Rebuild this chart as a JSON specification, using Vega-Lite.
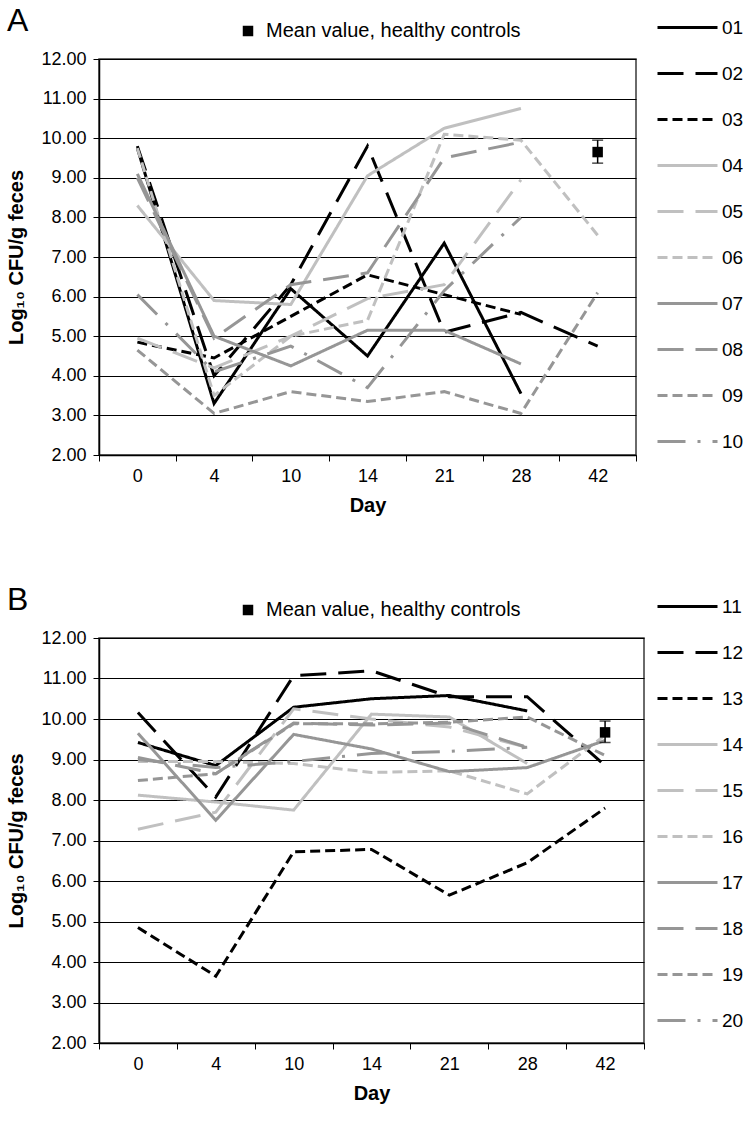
{
  "$schema": "https://vega.github.io/schema/vega-lite/v6.json",
  "padding": {"left": 6, "top": -5, "right": 0, "bottom": 0},
  "background": "white",
  "spacing": 58,
  "config": {
    "font": "Liberation Sans",
    "view": {"stroke": "#3a3a3a", "strokeWidth": 1.5},
    "axis": {"labelFont": "Liberation Sans", "labelFontSize": 18, "labelColor": "black", "titleFont": "Liberation Sans", "titleFontSize": 20, "titleFontWeight": "bold", "titleColor": "black", "domainColor": "black", "domainWidth": 1.5, "tickColor": "black", "tickWidth": 1, "labelOverlap": false},
    "legend": {"labelFont": "Liberation Sans", "labelColor": "black", "labelLimit": 400},
    "title": {"font": "Liberation Sans", "fontSize": 32, "fontWeight": "normal", "anchor": "start", "frame": "bounds", "color": "black", "offset": -42}
  },
  "datasets": {
    "a": [
      {"series": "01", "day": 0, "value": 9.75}, {"series": "01", "day": 4, "value": 3.3}, {"series": "01", "day": 10, "value": 6.2}, {"series": "01", "day": 14, "value": 4.5}, {"series": "01", "day": 21, "value": 7.35}, {"series": "01", "day": 28, "value": 3.55},
      {"series": "02", "day": 0, "value": 9.8}, {"series": "02", "day": 4, "value": 4.0}, {"series": "02", "day": 10, "value": 6.3}, {"series": "02", "day": 14, "value": 9.8}, {"series": "02", "day": 21, "value": 5.1}, {"series": "02", "day": 28, "value": 5.6}, {"series": "02", "day": 42, "value": 4.75},
      {"series": "03", "day": 0, "value": 4.85}, {"series": "03", "day": 4, "value": 4.45}, {"series": "03", "day": 10, "value": 5.5}, {"series": "03", "day": 14, "value": 6.55}, {"series": "03", "day": 21, "value": 6.05}, {"series": "03", "day": 28, "value": 5.55},
      {"series": "04", "day": 0, "value": 8.3}, {"series": "04", "day": 4, "value": 5.9}, {"series": "04", "day": 10, "value": 5.8}, {"series": "04", "day": 14, "value": 9.05}, {"series": "04", "day": 21, "value": 10.25}, {"series": "04", "day": 28, "value": 10.75},
      {"series": "05", "day": 0, "value": 4.95}, {"series": "05", "day": 4, "value": 4.2}, {"series": "05", "day": 10, "value": 5.0}, {"series": "05", "day": 14, "value": 5.95}, {"series": "05", "day": 21, "value": 6.3}, {"series": "05", "day": 28, "value": 8.95},
      {"series": "06", "day": 0, "value": 9.75}, {"series": "06", "day": 4, "value": 3.5}, {"series": "06", "day": 10, "value": 5.0}, {"series": "06", "day": 14, "value": 5.4}, {"series": "06", "day": 21, "value": 10.1}, {"series": "06", "day": 28, "value": 9.95}, {"series": "06", "day": 42, "value": 7.55},
      {"series": "07", "day": 0, "value": 9.1}, {"series": "07", "day": 4, "value": 5.0}, {"series": "07", "day": 10, "value": 4.25}, {"series": "07", "day": 14, "value": 5.15}, {"series": "07", "day": 21, "value": 5.15}, {"series": "07", "day": 28, "value": 4.3},
      {"series": "08", "day": 0, "value": 9.0}, {"series": "08", "day": 4, "value": 4.95}, {"series": "08", "day": 10, "value": 6.3}, {"series": "08", "day": 14, "value": 6.6}, {"series": "08", "day": 21, "value": 9.5}, {"series": "08", "day": 28, "value": 9.9},
      {"series": "09", "day": 0, "value": 4.65}, {"series": "09", "day": 4, "value": 3.05}, {"series": "09", "day": 10, "value": 3.6}, {"series": "09", "day": 14, "value": 3.35}, {"series": "09", "day": 21, "value": 3.6}, {"series": "09", "day": 28, "value": 3.05}, {"series": "09", "day": 42, "value": 6.1},
      {"series": "10", "day": 0, "value": 6.05}, {"series": "10", "day": 4, "value": 4.1}, {"series": "10", "day": 10, "value": 4.75}, {"series": "10", "day": 14, "value": 3.7}, {"series": "10", "day": 21, "value": 6.15}, {"series": "10", "day": 28, "value": 8.0}
    ],
    "b": [
      {"series": "11", "day": 0, "value": 9.42}, {"series": "11", "day": 4, "value": 8.85}, {"series": "11", "day": 10, "value": 10.29}, {"series": "11", "day": 14, "value": 10.5}, {"series": "11", "day": 21, "value": 10.58}, {"series": "11", "day": 28, "value": 10.2},
      {"series": "12", "day": 0, "value": 10.16}, {"series": "12", "day": 4, "value": 8.07}, {"series": "12", "day": 10, "value": 11.07}, {"series": "12", "day": 14, "value": 11.19}, {"series": "12", "day": 21, "value": 10.55}, {"series": "12", "day": 28, "value": 10.55}, {"series": "12", "day": 42, "value": 8.85},
      {"series": "13", "day": 0, "value": 4.85}, {"series": "13", "day": 4, "value": 3.65}, {"series": "13", "day": 10, "value": 6.72}, {"series": "13", "day": 14, "value": 6.78}, {"series": "13", "day": 21, "value": 5.65}, {"series": "13", "day": 28, "value": 6.45}, {"series": "13", "day": 42, "value": 7.8},
      {"series": "14", "day": 0, "value": 8.12}, {"series": "14", "day": 4, "value": 7.95}, {"series": "14", "day": 10, "value": 7.75}, {"series": "14", "day": 14, "value": 10.12}, {"series": "14", "day": 21, "value": 10.05}, {"series": "14", "day": 28, "value": 8.9},
      {"series": "15", "day": 0, "value": 7.28}, {"series": "15", "day": 4, "value": 7.7}, {"series": "15", "day": 10, "value": 10.25}, {"series": "15", "day": 14, "value": 10.0}, {"series": "15", "day": 21, "value": 9.8}, {"series": "15", "day": 28, "value": 9.3},
      {"series": "16", "day": 0, "value": 8.95}, {"series": "16", "day": 4, "value": 8.95}, {"series": "16", "day": 10, "value": 8.9}, {"series": "16", "day": 14, "value": 8.68}, {"series": "16", "day": 21, "value": 8.72}, {"series": "16", "day": 28, "value": 8.15}, {"series": "16", "day": 42, "value": 9.6},
      {"series": "17", "day": 0, "value": 9.65}, {"series": "17", "day": 4, "value": 7.5}, {"series": "17", "day": 10, "value": 9.62}, {"series": "17", "day": 14, "value": 9.26}, {"series": "17", "day": 21, "value": 8.7}, {"series": "17", "day": 28, "value": 8.8}, {"series": "17", "day": 42, "value": 9.47},
      {"series": "18", "day": 0, "value": 9.05}, {"series": "18", "day": 4, "value": 8.65}, {"series": "18", "day": 10, "value": 9.9}, {"series": "18", "day": 14, "value": 9.85}, {"series": "18", "day": 21, "value": 9.9}, {"series": "18", "day": 28, "value": 9.3},
      {"series": "19", "day": 0, "value": 8.48}, {"series": "19", "day": 4, "value": 8.65}, {"series": "19", "day": 10, "value": 9.88}, {"series": "19", "day": 14, "value": 9.88}, {"series": "19", "day": 21, "value": 9.92}, {"series": "19", "day": 28, "value": 10.05}, {"series": "19", "day": 42, "value": 9.1},
      {"series": "20", "day": 0, "value": 9.0}, {"series": "20", "day": 4, "value": 8.8}, {"series": "20", "day": 10, "value": 8.95}, {"series": "20", "day": 14, "value": 9.15}, {"series": "20", "day": 21, "value": 9.2}, {"series": "20", "day": 28, "value": 9.3}
    ],
    "meanA": [{"day": 42, "mean": 9.65, "lo": 9.37, "hi": 9.95, "label": "Mean value, healthy controls"}],
    "meanB": [{"day": 42, "mean": 9.67, "lo": 9.42, "hi": 9.95, "label": "Mean value, healthy controls"}]
  },
  "resolve": {"scale": {"color": "independent", "strokeDash": "independent", "shape": "independent"}, "legend": {"color": "independent", "strokeDash": "independent", "shape": "independent"}},
  "vconcat": [
    {
      "title": {"text": "A"},
      "width": 537,
      "height": 396,
      "layer": [
        {
          "data": {"name": "a"},
          "mark": {"type": "line", "strokeWidth": 3},
          "encoding": {
            "x": {"field": "day", "type": "ordinal", "title": "Day", "scale": {"type": "band", "domain": [0, 4, 10, 14, 21, 28, 42], "paddingInner": 0, "paddingOuter": 0}, "axis": {"labelAngle": 0, "tickBand": "extent", "tickSize": 6, "labelPadding": 6, "titlePadding": 10, "grid": false}},
            "y": {"field": "value", "type": "quantitative", "title": "Log₁₀ CFU/g feces", "scale": {"domain": [2, 12], "nice": false}, "axis": {"values": [2, 3, 4, 5, 6, 7, 8, 9, 10, 11, 12], "tickCount": 11, "format": ".2f", "labelOverlap": false, "grid": true, "gridColor": "black", "gridWidth": 1, "tickSize": 6, "labelPadding": 7, "titlePadding": 14}},
            "color": {"field": "series", "type": "nominal", "scale": {"domain": ["01", "02", "03", "04", "05", "06", "07", "08", "09", "10"], "range": ["#000000", "#000000", "#000000", "#c0c0c0", "#c0c0c0", "#c0c0c0", "#969696", "#969696", "#969696", "#969696"]}, "legend": {"orient": "none", "legendX": 557, "legendY": -63, "title": null, "symbolType": "stroke", "symbolSize": 3600, "symbolStrokeWidth": 3, "labelFontSize": 19, "labelOffset": 3, "rowPadding": 4, "padding": 0}},
            "strokeDash": {"field": "series", "type": "nominal", "scale": {"domain": ["01", "02", "03", "04", "05", "06", "07", "08", "09", "10"], "range": [[1, 0], [26, 12], [10, 5], [1, 0], [26, 12], [10, 5], [1, 0], [26, 12], [10, 5], [28, 12, 3, 12]]}, "legend": {"orient": "none", "legendX": 557, "legendY": -63, "title": null, "symbolType": "stroke", "symbolSize": 3600, "symbolStrokeWidth": 3, "labelFontSize": 19, "labelOffset": 3, "rowPadding": 4, "padding": 0}}
          }
        },
        {
          "data": {"name": "meanA"},
          "mark": {"type": "rule", "color": "black", "strokeWidth": 1.5},
          "encoding": {"x": {"field": "day", "type": "ordinal"}, "y": {"field": "lo", "type": "quantitative"}, "y2": {"field": "hi"}}
        },
        {
          "data": {"name": "meanA"},
          "mark": {"type": "tick", "orient": "horizontal", "color": "black", "size": 11, "thickness": 1.5},
          "encoding": {"x": {"field": "day", "type": "ordinal"}, "y": {"field": "lo", "type": "quantitative"}}
        },
        {
          "data": {"name": "meanA"},
          "mark": {"type": "tick", "orient": "horizontal", "color": "black", "size": 11, "thickness": 1.5},
          "encoding": {"x": {"field": "day", "type": "ordinal"}, "y": {"field": "hi", "type": "quantitative"}}
        },
        {
          "data": {"name": "meanA"},
          "mark": {"type": "point", "filled": true, "color": "black", "opacity": 1, "size": 110},
          "encoding": {
            "x": {"field": "day", "type": "ordinal"},
            "y": {"field": "mean", "type": "quantitative"},
            "shape": {"field": "label", "type": "nominal", "scale": {"range": ["square"]}, "legend": {"orient": "none", "legendX": 139, "legendY": -38, "title": null, "symbolSize": 110, "symbolFillColor": "black", "symbolStrokeColor": "black", "symbolOpacity": 1, "labelFontSize": 20, "labelOffset": 8, "padding": 0}}
          }
        }
      ]
    },
    {
      "title": {"text": "B"},
      "width": 545,
      "height": 405,
      "layer": [
        {
          "data": {"name": "b"},
          "mark": {"type": "line", "strokeWidth": 3},
          "encoding": {
            "x": {"field": "day", "type": "ordinal", "title": "Day", "scale": {"type": "band", "domain": [0, 4, 10, 14, 21, 28, 42], "paddingInner": 0, "paddingOuter": 0}, "axis": {"labelAngle": 0, "tickBand": "extent", "tickSize": 6, "labelPadding": 6, "titlePadding": 10, "grid": false}},
            "y": {"field": "value", "type": "quantitative", "title": "Log₁₀ CFU/g feces", "scale": {"domain": [2, 12], "nice": false}, "axis": {"values": [2, 3, 4, 5, 6, 7, 8, 9, 10, 11, 12], "tickCount": 11, "format": ".2f", "labelOverlap": false, "grid": true, "gridColor": "black", "gridWidth": 1, "tickSize": 6, "labelPadding": 7, "titlePadding": 14}},
            "color": {"field": "series", "type": "nominal", "scale": {"domain": ["11", "12", "13", "14", "15", "16", "17", "18", "19", "20"], "range": ["#000000", "#000000", "#000000", "#c0c0c0", "#c0c0c0", "#c0c0c0", "#969696", "#969696", "#969696", "#969696"]}, "legend": {"orient": "none", "legendX": 557, "legendY": -63, "title": null, "symbolType": "stroke", "symbolSize": 3600, "symbolStrokeWidth": 3, "labelFontSize": 19, "labelOffset": 3, "rowPadding": 4, "padding": 0}},
            "strokeDash": {"field": "series", "type": "nominal", "scale": {"domain": ["11", "12", "13", "14", "15", "16", "17", "18", "19", "20"], "range": [[1, 0], [26, 12], [10, 5], [1, 0], [26, 12], [10, 5], [1, 0], [26, 12], [10, 5], [28, 12, 3, 12]]}, "legend": {"orient": "none", "legendX": 557, "legendY": -63, "title": null, "symbolType": "stroke", "symbolSize": 3600, "symbolStrokeWidth": 3, "labelFontSize": 19, "labelOffset": 3, "rowPadding": 4, "padding": 0}}
          }
        },
        {
          "data": {"name": "meanB"},
          "mark": {"type": "rule", "color": "black", "strokeWidth": 1.5},
          "encoding": {"x": {"field": "day", "type": "ordinal"}, "y": {"field": "lo", "type": "quantitative"}, "y2": {"field": "hi"}}
        },
        {
          "data": {"name": "meanB"},
          "mark": {"type": "tick", "orient": "horizontal", "color": "black", "size": 11, "thickness": 1.5},
          "encoding": {"x": {"field": "day", "type": "ordinal"}, "y": {"field": "lo", "type": "quantitative"}}
        },
        {
          "data": {"name": "meanB"},
          "mark": {"type": "tick", "orient": "horizontal", "color": "black", "size": 11, "thickness": 1.5},
          "encoding": {"x": {"field": "day", "type": "ordinal"}, "y": {"field": "hi", "type": "quantitative"}}
        },
        {
          "data": {"name": "meanB"},
          "mark": {"type": "point", "filled": true, "color": "black", "opacity": 1, "size": 110},
          "encoding": {
            "x": {"field": "day", "type": "ordinal"},
            "y": {"field": "mean", "type": "quantitative"},
            "shape": {"field": "label", "type": "nominal", "scale": {"range": ["square"]}, "legend": {"orient": "none", "legendX": 139, "legendY": -38, "title": null, "symbolSize": 110, "symbolFillColor": "black", "symbolStrokeColor": "black", "symbolOpacity": 1, "labelFontSize": 20, "labelOffset": 8, "padding": 0}}
          }
        }
      ]
    }
  ]
}
